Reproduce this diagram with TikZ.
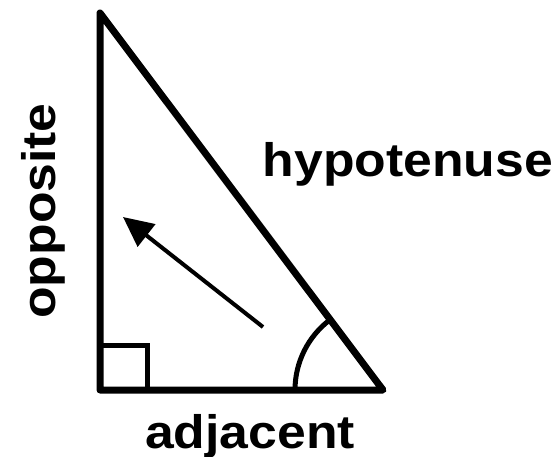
\documentclass[tikz,border=0pt]{standalone}
\usepackage{fontspec}
\setmainfont{Liberation Sans}
\usetikzlibrary{arrows.meta}
\newcommand{\trifont}{\fontsize{47}{52}\selectfont\bfseries}
\tikzset{
  trigpic/.style={x=1pt, y=-1pt},
  % the sides of the triangle
  side/.style={draw=black, line width=7pt, line join=round},
  % the right-angle box and the angle arc
  anglemark/.style={draw=black, line width=5pt},
  % the arrow inside the triangle
  pointer/.style={draw=black, line width=4pt,
                  -{Triangle[length=30pt,width=28pt]}},
  % the name of a side
  sidelabel/.style={font=\trifont, inner sep=0pt, anchor=base},
  % stretch the lettering a bit along its line
  widetext/.style={xscale=1.1},
}

\begin{document}
\begin{tikzpicture}[trigpic]
  \useasboundingbox (0,0) rectangle (557,457);
  % corners of the triangle
  \coordinate (top) at (100,13);
  \coordinate (bl) at (100,390);
  \coordinate (br) at (383,390);
  \coordinate (sqa) at (100,345);
  \coordinate (sqb) at (147,345);
  \coordinate (sqc) at (147,390);
  \coordinate (tail) at (263,327);
  \coordinate (head) at (123,217);

  \draw[anglemark] (sqa) -- (sqb) -- (sqc);
  \draw[anglemark] (br) ++(180:88) arc[start angle=180, end angle=233, radius=88];
  \draw[side] (top) -- (bl) -- (br) -- cycle;
  \draw[pointer] (tail) -- (head);

  \node[sidelabel, widetext] (hyp) at (408,177) {hypotenuse};
  \node[sidelabel, widetext] (adj) at (250,448) {adjacent};
  \node[sidelabel, rotate=90, widetext] (opp) at (55,211) {opposite};
\end{tikzpicture}
\end{document}
